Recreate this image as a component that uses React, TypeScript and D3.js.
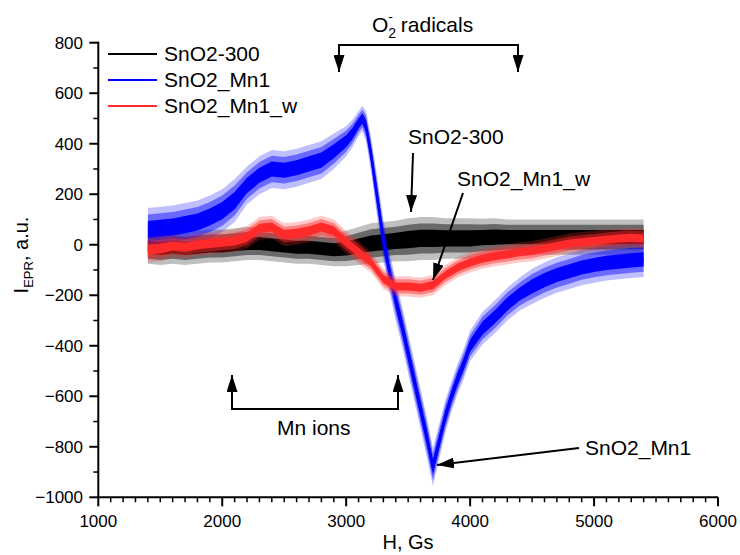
import React from "react";
import * as d3 from "d3";

// ---- Data ----
const FIELD = [1400,1500,1600,1700,1800,1900,2000,2100,2200,2300,2400,2500,2600,2700,2800,2900,3000,3100,3200,3300,3400,3500,3600,3700,3800,3900,4000,4100,4200,4300,4400,4500,4600,4700,4800,4900,5000,5100,5200,5300,5400];

const BLACK_CENTER = [-10,-15,-10,-15,-10,-5,-5,0,5,5,0,-5,-10,-10,-15,-20,-15,-5,5,10,15,20,25,25,25,25,25,28,30,30,30,30,30,30,30,30,30,30,30,30,30];
const BLACK_NOISE = [65,65,65,65,65,65,65,65,65,65,65,65,65,65,65,65,70,75,80,80,80,85,85,85,80,80,80,75,75,70,70,70,70,70,70,70,70,70,70,70,70];

const RED_CENTER = [-20,-15,-5,-10,0,5,10,15,30,65,70,40,45,55,70,55,10,-30,-70,-135,-165,-165,-170,-160,-120,-90,-70,-55,-45,-38,-30,-25,-15,-5,5,10,15,20,25,28,25];
const RED_NOISE = [50,50,45,45,45,45,45,45,45,45,45,45,45,45,45,45,45,45,40,40,40,40,40,40,40,40,40,40,40,40,40,40,40,40,40,40,40,40,40,40,40];

const BLUE_FIELD = [1400,1500,1600,1700,1800,1900,2000,2100,2200,2300,2400,2500,2600,2700,2800,2900,3000,3050,3100,3130,3160,3200,3250,3300,3350,3400,3450,3500,3550,3600,3650,3700,3750,3800,3850,3900,3950,4000,4100,4200,4300,4400,4500,4600,4700,4800,4900,5000,5100,5200,5300,5400];
const BLUE_CENTER = [60,65,70,80,90,110,135,175,235,275,300,295,305,320,335,370,410,440,480,500,470,360,190,20,-110,-220,-320,-430,-540,-650,-760,-880,-780,-680,-600,-530,-470,-400,-330,-285,-235,-195,-165,-140,-120,-105,-90,-80,-72,-67,-62,-58];
const BLUE_NOISE = [85,85,85,85,85,85,85,85,75,75,75,75,75,75,75,70,60,55,50,50,60,70,80,80,80,80,80,80,80,80,80,75,70,65,60,60,60,60,65,65,65,65,70,70,70,70,70,70,70,70,70,70];

const X_TICKS = [1000,2000,3000,4000,5000,6000];
const Y_TICKS = [800,600,400,200,0,-200,-400,-600,-800,-1000];

const SERIES = [
  { name: "SnO2-300", color: "#000000", field: FIELD, center: BLACK_CENTER, noise: BLACK_NOISE },
  { name: "SnO2_Mn1", color: "#0000ff", field: BLUE_FIELD, center: BLUE_CENTER, noise: BLUE_NOISE },
  { name: "SnO2_Mn1_w", color: "#ff2a2a", field: FIELD, center: RED_CENTER, noise: RED_NOISE },
];

const W = 740, H = 555;
const FONT = "'Liberation Sans', Arial, sans-serif";

export default function App() {
  const x = d3.scaleLinear().domain([1000, 6000]).range([98.3, 718]);
  const y = d3.scaleLinear().domain([-1000, 800]).range([497.3, 42.7]);

  const fmt = (v: number) => (v < 0 ? "\u2212" + Math.abs(v) : String(v));

  const xMinor = d3.range(1000, 6001, 100).filter((v) => v % 1000 !== 0);
  const yMinor = d3.range(-1000, 801, 100).filter((v) => v % 200 !== 0);

  const bands = SERIES.map((s) => {
    const pts = s.field.map((f, i) => ({ f, c: s.center[i], n: s.noise[i] }));
    const mk = (k: number) =>
      d3.area<any>().x((d) => x(d.f)).y0((d) => y(d.c - d.n * k)).y1((d) => y(d.c + d.n * k))(pts) || "";
    const center = d3.line<any>().x((d) => x(d.f)).y((d) => y(d.c))(pts) || "";
    return { ...s, outer: mk(1), mid: mk(0.7), inner: mk(0.4), center };
  });

  const x0 = x(1000), y0 = y(-1000);

  return (
    <svg width={W} height={H} style={{ position: "absolute", left: 0, top: 0, background: "#fff" }} fontFamily={FONT}>
      <defs>
        <marker id="ah" viewBox="0 0 10 10" refX="10" refY="5" markerWidth="17" markerHeight="11" markerUnits="userSpaceOnUse" orient="auto" preserveAspectRatio="none">
          <path d="M0,0 L10,5 L0,10 Z" fill="#000" />
        </marker>
      </defs>

      {/* series */}
      {bands.map((b) => (
        <g key={b.name}>
          <path d={b.outer} fill={b.color} opacity={0.25} />
          <path d={b.mid} fill={b.color} opacity={0.45} />
          <path d={b.inner} fill={b.color} />
          <path d={b.center} fill="none" stroke={b.color} strokeWidth={2.5} />
        </g>
      ))}

      {/* axes */}
      <g stroke="#000" strokeWidth={2}>
        <line x1={x0} y1={y(800) - 1} x2={x0} y2={y0} />
        <line x1={x0 - 1} y1={y0} x2={x(6000)} y2={y0} />
        {X_TICKS.map((t) => (
          <line key={"xt" + t} x1={x(t)} x2={x(t)} y1={y0} y2={y0 + 9} />
        ))}
        {xMinor.map((t) => (
          <line key={"xm" + t} x1={x(t)} x2={x(t)} y1={y0} y2={y0 + 5} strokeWidth={1.5} />
        ))}
        {Y_TICKS.map((t) => (
          <line key={"yt" + t} x1={x0 - 9} x2={x0} y1={y(t)} y2={y(t)} />
        ))}
        {yMinor.map((t) => (
          <line key={"ym" + t} x1={x0 - 5} x2={x0} y1={y(t)} y2={y(t)} strokeWidth={1.5} />
        ))}
      </g>
      <g fontSize={17} fill="#000">
        {X_TICKS.map((t) => (
          <text key={"xl" + t} x={x(t)} y={527} textAnchor="middle">{t}</text>
        ))}
        {Y_TICKS.map((t) => (
          <text key={"yl" + t} x={83} y={y(t) + 6} textAnchor="end">{fmt(t)}</text>
        ))}
      </g>

      {/* axis titles */}
      <text x={408} y={549} fontSize={20} textAnchor="middle">H, Gs</text>
      <text transform="translate(28,255) rotate(-90)" fontSize={20} textAnchor="middle">
        I<tspan fontSize={13} dy={5}>EPR</tspan><tspan dy={-5}>, a.u.</tspan>
      </text>

      {/* legend */}
      {SERIES.map((s, i) => (
        <g key={"lg" + s.name}>
          <line x1={108} x2={157} y1={54 + i * 26} y2={54 + i * 26} stroke={s.color} strokeWidth={2} />
          <text x={164} y={61 + i * 26} fontSize={21}>{s.name}</text>
        </g>
      ))}

      {/* annotations */}
      <text x={372} y={32} fontSize={21}>
        O<tspan fontSize={14} dy={6}>2</tspan><tspan fontSize={14} dx={-8} dy={-16}>-</tspan><tspan dx={8} dy={10}>radicals</tspan>
      </text>
      <line x1={338} y1={45} x2={519} y2={45} stroke="#000" strokeWidth={2} />
      <line x1={339} y1={44} x2={339} y2={72} stroke="#000" strokeWidth={2} markerEnd="url(#ah)" />
      <line x1={518} y1={44} x2={518} y2={72} stroke="#000" strokeWidth={2} markerEnd="url(#ah)" />

      <text x={408} y={144} fontSize={21}>SnO2-300</text>
      <line x1={413} y1={153} x2={411} y2={212} stroke="#000" strokeWidth={2} markerEnd="url(#ah)" />

      <text x={457} y={186} fontSize={21}>SnO2_Mn1_w</text>
      <line x1={463} y1={193} x2={433} y2={280} stroke="#000" strokeWidth={2} markerEnd="url(#ah)" />

      <line x1={231} y1={409} x2={399} y2={409} stroke="#000" strokeWidth={2} />
      <line x1={232} y1={410} x2={232} y2={375} stroke="#000" strokeWidth={2} markerEnd="url(#ah)" />
      <line x1={398} y1={410} x2={398} y2={375} stroke="#000" strokeWidth={2} markerEnd="url(#ah)" />
      <text x={277} y={435} fontSize={21}>Mn ions</text>

      <text x={585} y={455} fontSize={21}>SnO2_Mn1</text>
      <line x1={579} y1={448} x2={437} y2={465} stroke="#000" strokeWidth={2} markerEnd="url(#ah)" />
    </svg>
  );
}
